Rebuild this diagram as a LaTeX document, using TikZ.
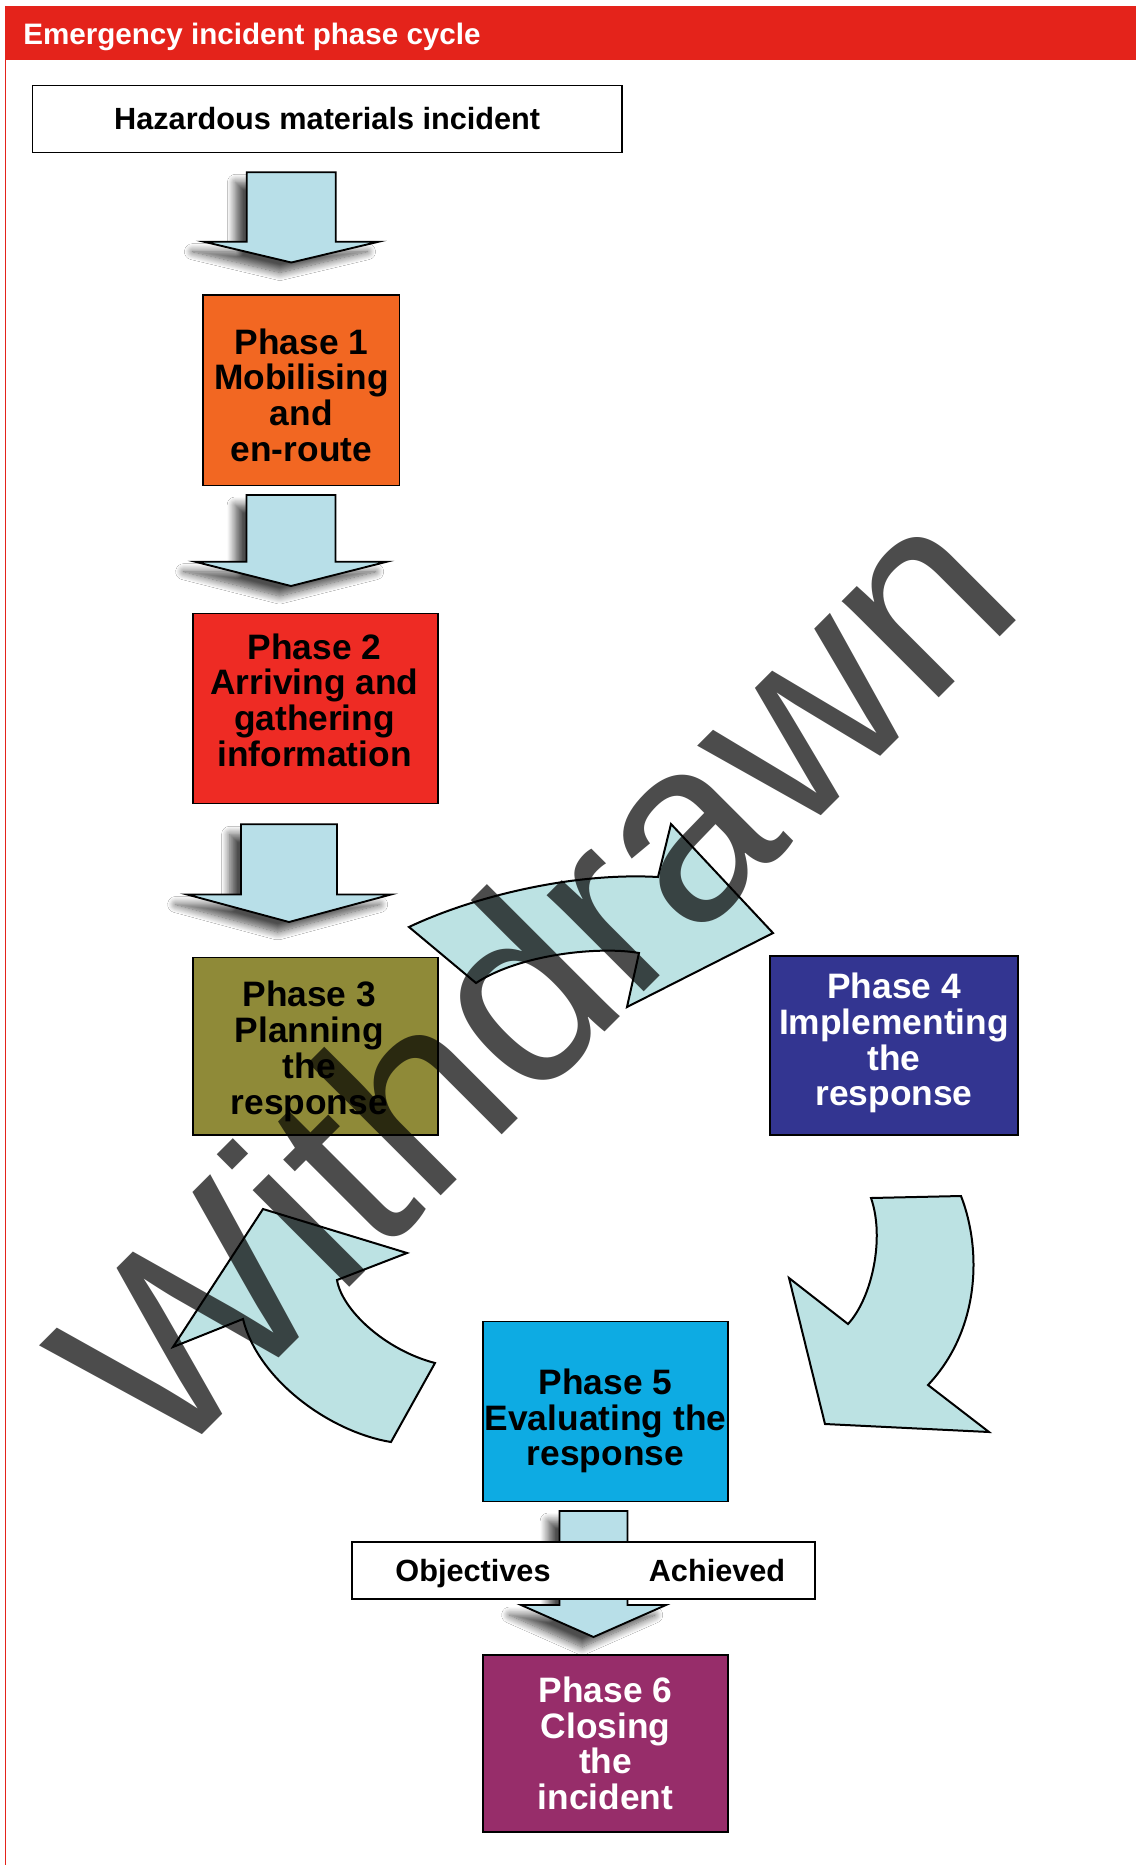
\documentclass[tikz,border=0pt]{standalone}
\usepackage{fontspec}
\setmainfont{Liberation Sans}
\usetikzlibrary{calc,shadows.blur}
\definecolor{hdrred}{RGB}{228,35,27}
\definecolor{phonecol}{RGB}{242,103,34}
\definecolor{phtwocol}{RGB}{238,43,36}
\definecolor{phthreecol}{RGB}{143,138,56}
\definecolor{phfourcol}{RGB}{51,53,145}
\definecolor{phfivecol}{RGB}{13,171,227}
\definecolor{phsixcol}{RGB}{151,45,106}
\definecolor{arrcol}{RGB}{184,223,232}
\definecolor{curvcol}{RGB}{188,226,227}
% #1 top coordinate, #2 tip coordinate, #3 shaft half width, #4 head half width, #5 head length
\newcommand{\BlkArrow}[5]{%
  \path[downarr] ($(#1)+(-#3,0)$) -- ($(#1)+(#3,0)$) -- ($(#2)+(#3,-#5)$) -- ($(#2)+(#4,-#5)$)
    -- (#2) -- ($(#2)+(-#4,-#5)$) -- ($(#2)+(-#3,-#5)$) -- cycle;}
\begin{document}
\begin{tikzpicture}[x=0.75pt,y=-0.75pt,
  phasebox/.style={draw=black, line width=1.4pt, inner sep=0pt},
  phtext/.style={align=center, inner sep=0pt, font=\bfseries\fontsize{26.5}{26.85}\selectfont},
  plainbox/.style={draw=black, line width=1.4pt, fill=white, inner sep=0pt},
  lbl/.style={inner sep=0pt, font=\bfseries\fontsize{23}{27}\selectfont},
  downarr/.style={fill=arrcol, draw=black, line width=1.4pt, line join=miter,
    blur shadow={shadow xshift=-8.5pt, shadow yshift=-7.5pt, shadow blur radius=6pt,
      shadow blur steps=12, shadow opacity=70}},
  curvarr/.style={fill=curvcol, draw=black, line width=1.5pt, line join=miter}]
\useasboundingbox (0,0) rectangle (1136,1865);
\fill[white] (0,0) rectangle (1136,1865);

% header and frame
\fill[hdrred] (4.5,6) rectangle (1136,60);
\draw[hdrred, line width=1.2pt] (5.5,6) -- (5.5,1865);
\node[anchor=base west, inner sep=0pt, text=white, font=\bfseries\fontsize{22.2}{26}\selectfont]
  (title) at (23,45) {Emergency incident phase cycle};

% top box
\node[plainbox, minimum width=442.1pt, minimum height=50.25pt] (haz) at (327.2,119) {};
\node[lbl, anchor=base] (hazt) at (327.2,130) {Hazardous materials incident};

% straight block arrows
\coordinate (aonetop) at (291.3,172.3);
\coordinate (aonetip) at (291.3,262.5);
\coordinate (atwotop) at (291,495);
\coordinate (atwotip) at (291,586);
\coordinate (athreetop) at (289,824.3);
\coordinate (athreetip) at (289,922);
\coordinate (afourtop) at (593.5,1511);
\coordinate (afourtip) at (593.5,1637);
\BlkArrow{aonetop}{aonetip}{44.5}{87.5}{20.8}
\BlkArrow{atwotop}{atwotip}{44.5}{96}{24.3}
\BlkArrow{athreetop}{athreetip}{48}{102}{27.5}

% phase boxes
\node[phasebox, fill=phonecol, minimum width=147.2pt, minimum height=142.9pt] (p1) at (301.4,390.2) {};
\node[phtext] (p1t) at ($(p1)+(0,5)$) {Phase 1\\Mobilising\\and\\en-route};
\node[phasebox, fill=phtwocol, minimum width=183.3pt, minimum height=142.5pt] (p2) at (315.5,708.5) {};
\node[phtext] (p2t) at ($(p2)+(-1,-8.3)$) {Phase 2\\Arriving and\\gathering\\information};
\node[phasebox, fill=phthreecol, minimum width=184pt, minimum height=133.1pt] (p3) at (315.3,1046.2) {};
\node[phtext] (p3t) at ($(p3)+(-6,5)$) {Phase 3\\Planning\\the\\response};
\node[phasebox, fill=phfourcol, minimum width=186pt, minimum height=134.25pt] (p4) at (894,1045.5) {};
\node[phtext, text=white] (p4t) at ($(p4)+(0,-2.4)$) {Phase 4\\Implementing\\the\\response};
\node[phasebox, fill=phfivecol, minimum width=183.75pt, minimum height=135pt] (p5) at (605.5,1411.5) {};
\node[phtext] (p5t) at ($(p5)+(0,9.5)$) {Phase 5\\Evaluating the\\response};
\node[phasebox, fill=phsixcol, minimum width=183.75pt, minimum height=133.1pt] (p6) at (605.5,1743.3) {};
\node[phtext, text=white] (p6t) at (p6) {Phase 6\\Closing\\the\\incident};

% curved arrows of the cycle
\path[curvarr] (409,927) .. controls (470,898) and (570,872) .. (658,877) -- (671,824) -- (773,933)
  -- (627,1007) -- (639,953) .. controls (600,946) and (520,954) .. (476,983) -- cycle;
\path[curvarr] (961,1196) .. controls (982,1250) and (980,1330) .. (928,1385) -- (989,1432)
  -- (825,1424) -- (789,1278) -- (848,1324) .. controls (872,1298) and (885,1238) .. (871,1198) -- cycle;
\path[curvarr] (263,1209) -- (407,1253) -- (337,1280) .. controls (342,1310) and (385,1350) .. (435,1363)
  -- (391,1442) .. controls (330,1432) and (258,1380) .. (243,1319) -- (173,1347) -- cycle;

% arrow to phase 6 through the objectives box
\BlkArrow{afourtop}{afourtip}{34}{72.5}{32}
\node[plainbox, minimum width=347.25pt, minimum height=42.75pt] (obj) at (583.5,1570.5) {};
\node[lbl, anchor=base] (objl) at (473,1581) {Objectives};
\node[lbl, anchor=base] (objr) at (717,1581) {Achieved};

% watermark
\node[rotate=45, inner sep=0pt, text=black, text opacity=0.7, font=\fontsize{194}{194}\selectfont]
  (wm) at (531,975) {Withdrawn};
\end{tikzpicture}
\end{document}
